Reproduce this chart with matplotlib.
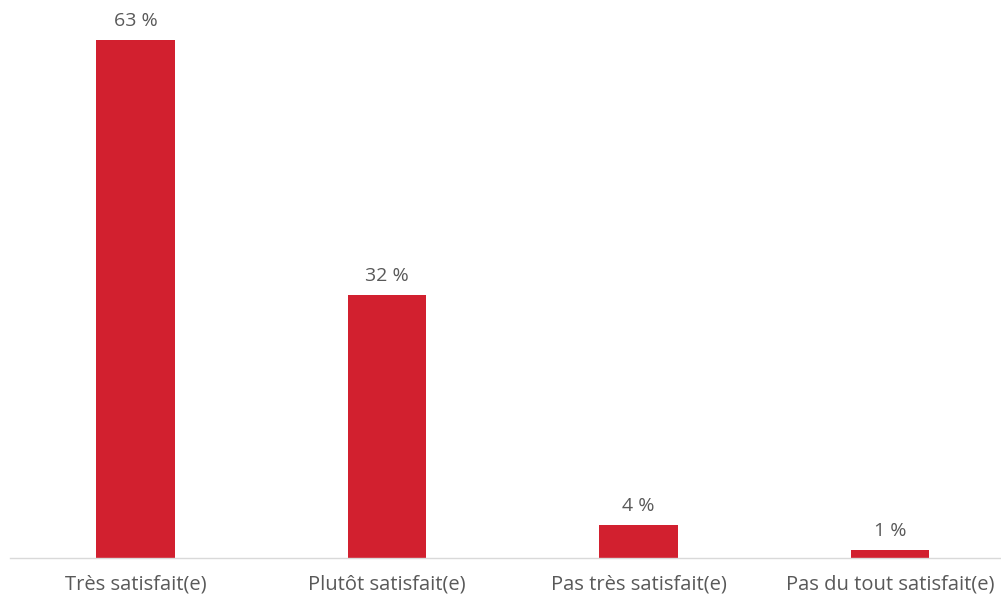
import matplotlib
matplotlib.use("Agg")
import matplotlib.pyplot as plt

categories = ["Très satisfait(e)", "Plutôt satisfait(e)", "Pas très satisfait(e)", "Pas du tout satisfait(e)"]
values = [63, 32, 4, 1]
labels = ["63 %", "32 %", "4 %", "1 %"]

plt.rcParams['font.family'] = ['Open Sans', 'DejaVu Sans']

fig = plt.figure(figsize=(10.01, 6.01), dpi=100, facecolor="white")
ax = fig.add_axes([10 / 1001, 43 / 601, 991 / 1001, 558 / 601])

x = list(range(len(categories)))
ax.bar(x, values, width=0.314, color="#D2202F", zorder=2)

for xi, v, lab in zip(x, values, labels):
    ax.annotate(lab, (xi, v), xytext=(0, 7), textcoords="offset points",
                ha="center", va="bottom", fontsize=14, color="#595959")

ax.set_xlim(-0.499, -0.499 + 991 / 251.5)
ax.set_ylim(0, 558 / 8.23)

for s in ["top", "right", "left"]:
    ax.spines[s].set_visible(False)
ax.spines["bottom"].set_color("#D9D9D9")
ax.spines["bottom"].set_linewidth(1)
ax.set_yticks([])
ax.set_xticks(x)
ax.set_xticklabels(categories, fontsize=14.5, color="#595959")
ax.tick_params(axis="x", length=0, pad=12)

fig.savefig("out.png", dpi=100)
